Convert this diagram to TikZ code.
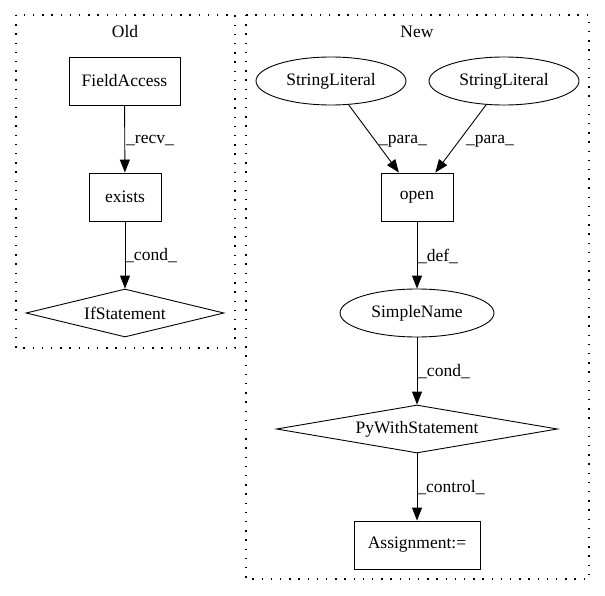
\documentclass[tikz,border=0pt]{standalone}
\usepackage{fontspec}
\setmainfont{Liberation Serif}
\usetikzlibrary{shapes.geometric,arrows.meta}
\begin{document}
\begin{tikzpicture}[x=1pt,y=-1pt,
  every node/.style={font=\fontsize{17.5}{20}\selectfont},
  base/.style={draw, line width=0.9pt, inner sep=0pt, minimum height=48pt},
  box/.style={base, rectangle},
  ell/.style={base, ellipse},
  dia/.style={base, diamond},
  edge/.style={draw, line width=0.9pt, -{Triangle[length=13pt,width=10pt]}},
  elabel/.style={fill=none, inner sep=0pt},
  cluster/.style={draw, line width=1.2pt, dash pattern=on 1.4pt off 7.8pt}
]
\useasboundingbox (0,0) rectangle (605,596);
% clusters
\draw[cluster] (16,15) rectangle (235,348);
\draw[cluster] (246,15) rectangle (589,579);
\node (oldlbl) at (125,32) {Old};
\node (newlbl) at (417,32) {New};
% Old
\node[box, minimum width=111pt] (fa) at (124.5,81) {FieldAccess};
\node[box, minimum width=72pt] (ex) at (125,197) {exists};
\node[dia, aspect=4.125, minimum width=198pt] (ifs) at (125,313) {IfStatement};
% New
\node[ell, minimum width=150pt] (sl1) at (331,81) {StringLiteral};
\node[ell, minimum width=150pt] (sl2) at (504,81) {StringLiteral};
\node[box, minimum width=72pt] (op) at (417,197) {open};
\node[ell, minimum width=154pt] (sn) at (417,313) {SimpleName};
\node[dia, aspect=5.85, minimum width=281pt] (pw) at (417,429) {PyWithStatement};
\node[box, minimum width=126pt] (asg) at (417,545) {Assignment:=};
% edges
\draw[edge] (fa) -- (ex);
\draw[edge] (ex) -- (ifs);
\draw[edge] (sl1) -- (op);
\draw[edge] (sl2) -- (op);
\draw[edge] (op) -- (sn);
\draw[edge] (sn) -- (pw);
\draw[edge] (pw) -- (asg);
% edge labels
\node[elabel] (l1) at (150,141) {\_recv\_};
\node[elabel] (l2) at (151,256) {\_cond\_};
\node[elabel] (l3) at (403,141) {\_para\_};
\node[elabel] (l4) at (490,141) {\_para\_};
\node[elabel] (l5) at (438,256) {\_def\_};
\node[elabel] (l6) at (444,372) {\_cond\_};
\node[elabel] (l7) at (451,488) {\_control\_};
\end{tikzpicture}
\end{document}
